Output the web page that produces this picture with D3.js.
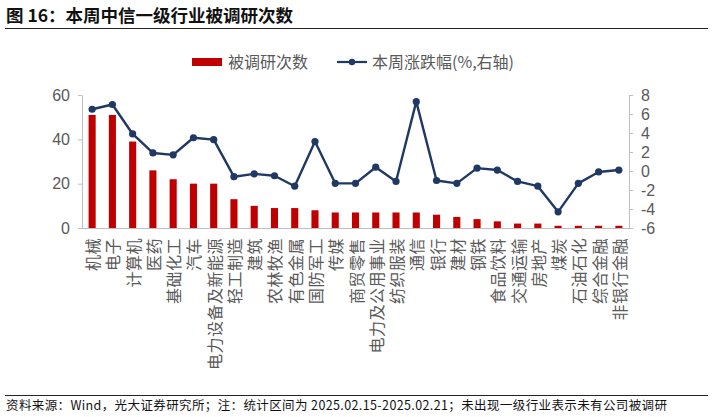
<!DOCTYPE html>
<html>
<head>
<meta charset="utf-8">
<script src="https://cdn.jsdelivr.net/npm/d3@7"></script>
<style>
  body { margin: 0; background: #fff; }
  svg { display: block; font-family: Lato, 'Noto Sans CJK SC', sans-serif; }
</style>
</head>
<body>
<svg id="chart" width="714" height="417"></svg>
<script>
const industries = ['机械', '电子', '计算机', '医药', '基础化工', '汽车', '电力设备及新能源', '轻工制造', '建筑',
  '农林牧渔', '有色金属', '国防军工', '传媒', '商贸零售', '电力及公用事业', '纺织服装', '通信', '银行', '建材',
  '钢铁', '食品饮料', '交通运输', '房地产', '煤炭', '石油石化', '综合金融', '非银行金融']
const surveyCounts = [51, 51, 39, 26, 22, 20, 20, 13, 10, 9, 9, 8, 7, 7, 7, 7, 7, 6, 5, 4, 3, 2, 2, 1, 1, 1, 1]
const weeklyChange = [6.5, 7.0, 3.9, 1.9, 1.7, 3.5, 3.3, -0.6, -0.3, -0.5, -1.6, 3.1, -1.3, -1.3, 0.4, -1.1,
  7.3, -1.0, -1.3, 0.3, 0.1, -1.1, -1.6, -4.3, -1.3, -0.1, 0.1]
const leftTicks = [0, 20, 40, 60]
const rightTicks = [-6, -4, -2, 0, 2, 4, 6, 8]

const barColor = '#c00000'
const lineColor = '#1f3864'
const textColor = '#595959'
const axisColor = '#bfbfbf'

const svg = d3.select('#chart')
const plotLeft = 82
const plotRight = 629
const plotTop = 95
const plotBottom = 228

const x = d3.scaleBand()
  .domain(industries)
  .range([plotLeft, plotRight])
  .paddingInner(0.65)
  .paddingOuter(0.325)
const yLeft = d3.scaleLinear().domain([0, 60]).range([plotBottom, plotTop])
const yRight = d3.scaleLinear().domain([-6, 8]).range([plotBottom, plotTop])
const cx = d => x(d) + x.bandwidth() / 2

// title + rules
svg.append('text')
  .attr('x', 6).attr('y', 22)
  .attr('font-family', "'Noto Sans CJK SC', sans-serif")
  .attr('font-size', 17.5).attr('font-weight', 'bold').attr('fill', '#111')
  .text('图 16：本周中信一级行业被调研次数')
svg.append('line')
  .attr('x1', 5).attr('x2', 708).attr('y1', 28.5).attr('y2', 28.5)
  .attr('stroke', '#222').attr('stroke-width', 1.2)
svg.append('line')
  .attr('x1', 5).attr('x2', 708).attr('y1', 395.5).attr('y2', 395.5)
  .attr('stroke', '#222').attr('stroke-width', 1)
svg.append('text')
  .attr('x', 6).attr('y', 410)
  .attr('font-family', "'Noto Sans CJK SC', sans-serif")
  .attr('font-size', 12.5).attr('fill', '#111')
  .attr('textLength', 661).attr('lengthAdjust', 'spacing')
  .text('资料来源：Wind，光大证券研究所；注：统计区间为 2025.02.15-2025.02.21；未出现一级行业表示未有公司被调研')

// legend
const legend = svg.append('g').attr('font-family', "'Noto Sans CJK SC', sans-serif")
  .attr('font-size', 16).attr('fill', textColor)
legend.append('rect').attr('x', 192).attr('y', 58).attr('width', 30).attr('height', 8).attr('fill', barColor)
legend.append('text').attr('x', 228).attr('y', 68).text('被调研次数')
legend.append('line').attr('x1', 337).attr('x2', 367).attr('y1', 62).attr('y2', 62)
  .attr('stroke', lineColor).attr('stroke-width', 2.2)
legend.append('circle').attr('cx', 352).attr('cy', 62).attr('r', 3.2).attr('fill', lineColor)
legend.append('text').attr('x', 372).attr('y', 68).text('本周涨跌幅(%,右轴)')

// axes
const styleAxis = g => {
  g.selectAll('path, line').attr('stroke', axisColor)
  g.selectAll('text').attr('fill', textColor).attr('font-size', 16)
}
svg.append('g')
  .attr('transform', `translate(${plotLeft},0)`)
  .call(d3.axisLeft(yLeft).tickValues(leftTicks).tickSize(4).tickSizeOuter(0).tickPadding(8))
  .call(styleAxis)
svg.append('g')
  .attr('transform', `translate(${plotRight},0)`)
  .call(d3.axisRight(yRight).tickValues(rightTicks).tickSize(4).tickSizeOuter(0).tickPadding(8)
    .tickFormat(d => String(d)))
  .call(styleAxis)
svg.append('line')
  .attr('x1', plotLeft).attr('x2', plotRight).attr('y1', plotBottom + 0.5).attr('y2', plotBottom + 0.5)
  .attr('stroke', axisColor)

// bars
svg.append('g').selectAll('rect')
  .data(industries)
  .join('rect')
  .attr('x', d => x(d))
  .attr('width', x.bandwidth())
  .attr('y', (d, i) => yLeft(surveyCounts[i]))
  .attr('height', (d, i) => plotBottom - yLeft(surveyCounts[i]))
  .attr('fill', barColor)

// line
const points = industries.map((d, i) => [cx(d), yRight(weeklyChange[i])])
svg.append('path')
  .attr('d', d3.line()(points))
  .attr('fill', 'none').attr('stroke', lineColor).attr('stroke-width', 2.4)
  .attr('stroke-linejoin', 'round')
svg.append('g').selectAll('circle')
  .data(points)
  .join('circle')
  .attr('cx', d => d[0]).attr('cy', d => d[1]).attr('r', 3.6)
  .attr('fill', lineColor)

// category labels, rotated to read bottom-up, right end at the axis
svg.append('g')
  .attr('font-family', "'Noto Sans CJK SC', sans-serif")
  .attr('font-size', 16).attr('fill', textColor).attr('text-anchor', 'end')
  .attr('letter-spacing', 0.5)
  .selectAll('text')
  .data(industries)
  .join('text')
  .attr('transform', d => `translate(${cx(d)},238) rotate(-90)`)
  .attr('dominant-baseline', 'central')
  .text(d => d)
</script>
</body>
</html>
